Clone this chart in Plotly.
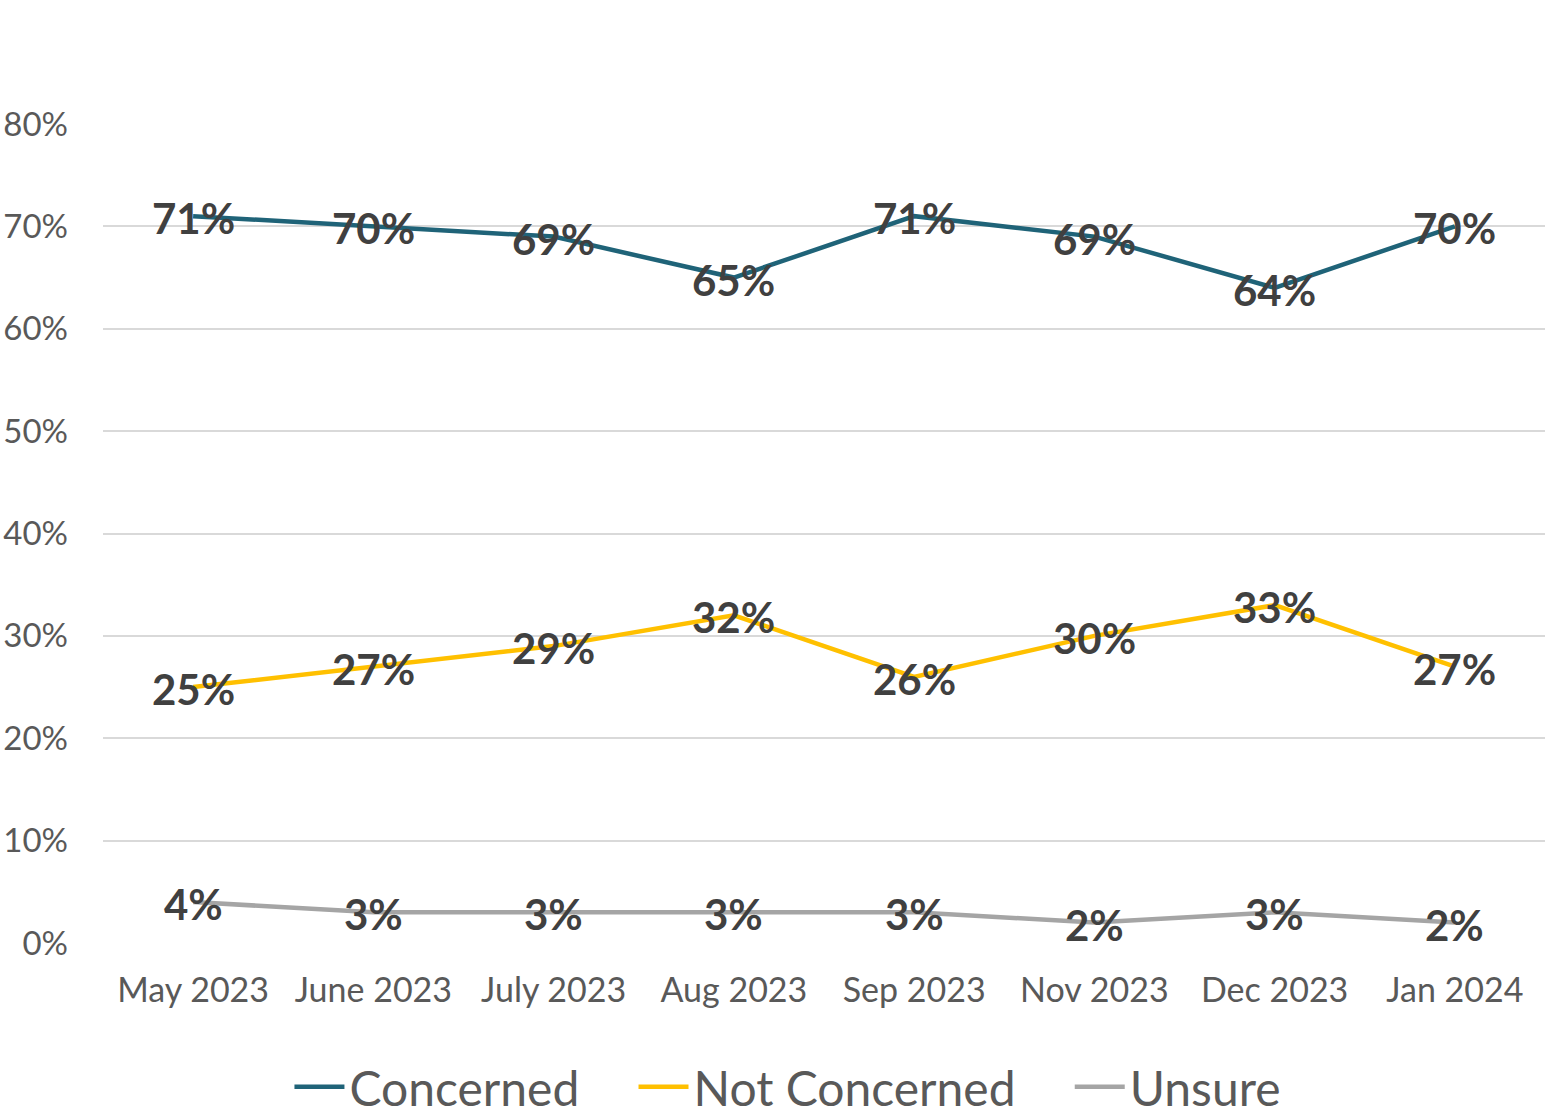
import plotly.graph_objects as go

categories = ["May 2023", "June 2023", "July 2023", "Aug 2023", "Sep 2023", "Nov 2023", "Dec 2023", "Jan 2024"]
concerned = [0.71, 0.70, 0.69, 0.65, 0.71, 0.69, 0.64, 0.70]
not_concerned = [0.25, 0.27, 0.29, 0.32, 0.26, 0.30, 0.33, 0.27]
unsure = [0.04, 0.03, 0.03, 0.03, 0.03, 0.02, 0.03, 0.02]
y_ticks = [0, 0.1, 0.2, 0.3, 0.4, 0.5, 0.6, 0.7, 0.8]

series = [
    ("Concerned", concerned, "#1F6378"),
    ("Not Concerned", not_concerned, "#FFC000"),
    ("Unsure", unsure, "#A5A5A5"),
]

FONT = "Lato"
NBSP = "\u00a0"
fig = go.Figure()
for i, (name, vals, color) in enumerate(series):
    label = name + (NBSP * 4 if i < len(series) - 1 else "")
    fig.add_trace(go.Scatter(
        x=categories, y=vals, name=label, mode="lines",
        line=dict(color=color, width=4.5),
    ))
    for c, v in zip(categories, vals):
        fig.add_annotation(
            x=c, y=v, xref="x", yref="y", text=f"{round(v*100)}%",
            showarrow=False, xanchor="center", yanchor="middle", yshift=-2,
            font=dict(family=FONT, size=42, color="#404040", weight="bold"),
        )

fig.update_layout(
    width=1549, height=1117,
    margin=dict(l=103, r=4, t=124, b=174, autoexpand=False),
    plot_bgcolor="white", paper_bgcolor="white",
    font=dict(family=FONT, color="#595959"),
    showlegend=True,
    legend=dict(orientation="h", x=0.475, xanchor="center", y=-0.176, yanchor="middle",
                font=dict(size=48, color="#595959", family=FONT),
                itemwidth=50, traceorder="normal"),
    xaxis=dict(type="category", range=[-0.5, 7.5], showgrid=False, showline=False,
               automargin=False,
               ticks="", tickfont=dict(size=34, color="#595959"), ticklabelstandoff=24),
    yaxis=dict(range=[0, 0.8], tickvals=y_ticks, tickformat=".0%",
               automargin=False,
               showgrid=True, gridcolor="#D9D9D9", gridwidth=2, zeroline=False,
               showline=False, ticks="", tickfont=dict(size=33, color="#595959"),
               ticklabelstandoff=34),
)
fig.write_html("out.html")
